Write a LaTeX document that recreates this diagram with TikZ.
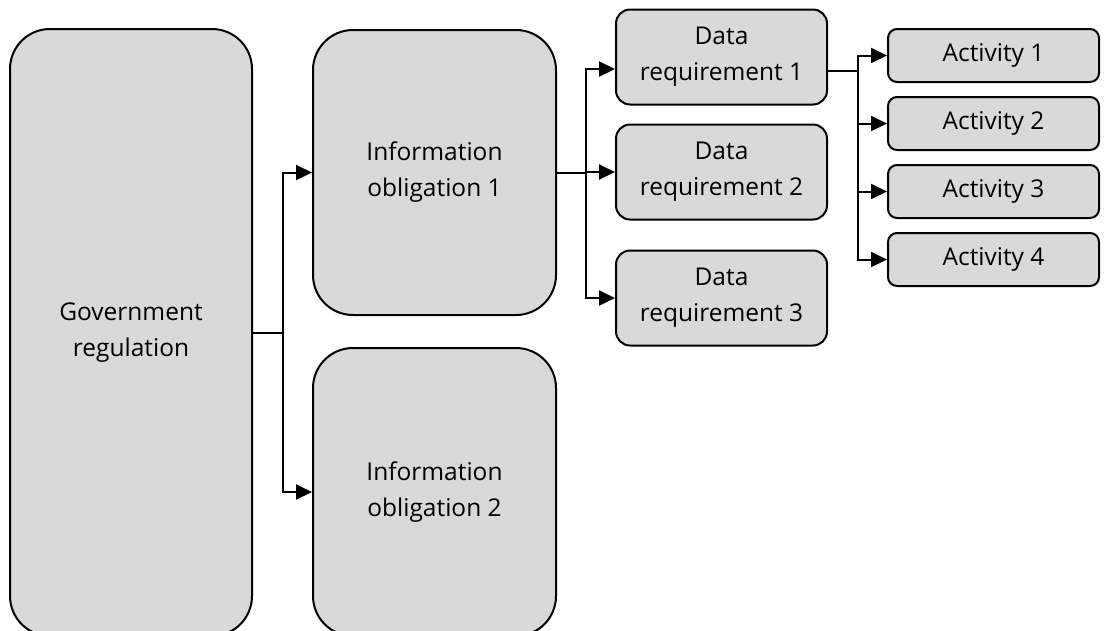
\documentclass[tikz,border=0pt]{standalone}
\usepackage{fontspec}
\setmainfont{Open Sans}
\usetikzlibrary{arrows.meta,positioning}

\begin{document}
\begin{tikzpicture}[x=1pt,y=-1pt,
    box/.style={draw, line width=2pt, fill=black!15, align=center,
        inner sep=0pt, font=\fontsize{24.5}{36}\selectfont},
    tallbox/.style={box, minimum width=242pt, rounded corners=40pt},
    databox/.style={box, minimum width=211pt, minimum height=95pt, rounded corners=14pt},
    actbox/.style={box, minimum width=211pt, minimum height=53pt, rounded corners=9pt},
    arr/.style={line width=2pt, -{Triangle[length=16pt,width=15pt]}},
    link/.style={line width=2pt}]
    \useasboundingbox (0,0) rectangle (1107,630);
    % Regulation and obligations
    \node[tallbox, minimum height=607pt] (gov) at (131,332.5) {Government\\regulation};
    \node[tallbox, minimum width=243pt, minimum height=285pt] (info1) at (434.5,172.5) {Information\\obligation 1};
    \node[tallbox, minimum width=243pt, minimum height=288pt] (info2) at (434.5,492) {Information\\obligation 2};
    % Data requirements
    \node[databox] (dr1) at (721.5,57) {Data\\requirement 1};
    \node[databox] (dr2) at (721.5,172) {Data\\requirement 2};
    \node[databox] (dr3) at (721.5,298) {Data\\requirement 3};
    % Activities
    \foreach \i in {1,...,4} {
        \node[actbox] (act\i) at (993.5,55.5+68*\i-68) {Activity \i};
    }
    % Arrows
    \draw[link] (gov.east) -- ++(30,0) coordinate (j1);
    \draw[arr] (j1) |- (info1.west);
    \draw[arr] (j1) |- (info2.west);
    \draw[link] (info1.east) -- ++(29,0) coordinate (j2);
    \draw[arr] (j2) |- ([yshift=-12pt]dr1.west);
    \draw[arr] (j2) |- (dr2.west);
    \draw[arr] (j2) |- (dr3.west);
    \draw[link] ([yshift=-14pt]dr1.east) -- ++(30,0) coordinate (j3);
    \foreach \i in {1,...,4} {
        \draw[arr] (j3) |- (act\i.west);
    }
\end{tikzpicture}
\end{document}
